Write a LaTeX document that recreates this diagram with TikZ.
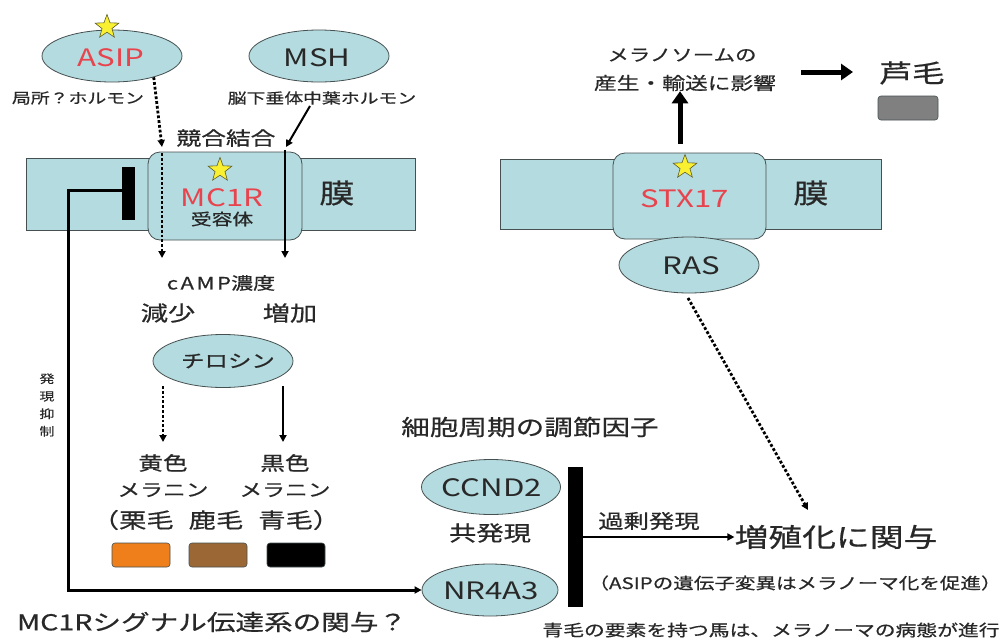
\documentclass[tikz,border=0pt]{standalone}
\usepackage{fontspec}
\setmainfont{Noto Sans CJK JP}[FakeStretch=1.3, FakeBold=0.6]
\newfontfamily\latfont{Noto Sans CJK JP}[FakeStretch=1.3]
\newfontfamily\spfont{Noto Sans CJK JP}[FakeStretch=1.3, FakeBold=0.6, LetterSpace=15]
\usetikzlibrary{shapes.geometric,arrows.meta}
\definecolor{memb}{RGB}{180,219,223}
\definecolor{linec}{RGB}{70,80,80}
\definecolor{txtc}{RGB}{40,40,40}
\definecolor{redt}{RGB}{232,68,78}
\definecolor{stary}{RGB}{250,240,50}
\definecolor{starl}{RGB}{90,90,40}
\definecolor{orangeb}{RGB}{238,127,26}
\definecolor{brownb}{RGB}{155,103,52}
\definecolor{greyb}{RGB}{128,128,128}
\newcommand{\myfs}[1]{\fontsize{#1}{#1}\selectfont}
\tikzset{
  tx/.style={text=txtc, inner sep=0pt},
  ell/.style={ellipse, draw=linec, fill=memb, line width=0.8pt, inner sep=0pt},
  band/.style={rectangle, draw=linec, fill=memb, line width=0.8pt, inner sep=0pt},
  prot/.style={band, rounded corners=12pt},
  stary/.style={star, star points=5, star point ratio=2.4, fill=stary, draw=starl, line width=0.6pt, minimum size=25pt, inner sep=0pt},
  arr/.style={-{Triangle[length=7pt,width=7pt]}, line width=2pt, black},
  darr/.style={-{Triangle[length=7pt,width=7pt]}, line width=2.8pt, black, dash pattern=on 2.8pt off 2pt},
  bigarr/.style={-{Triangle[length=12pt,width=16pt]}, line width=5pt, black},
  inhib/.style={rectangle, fill=black, inner sep=0pt},
  swatch/.style={rectangle, rounded corners=3pt, draw=linec, line width=0.6pt, inner sep=0pt, minimum width=58pt, minimum height=24pt},
  lab/.style={tx, font=\latfont\myfs{24}},
}
\begin{document}
\begin{tikzpicture}[x=1pt,y=-1pt]
\useasboundingbox[fill=white] (0,0) rectangle (1006,640);

% ---------- left part ----------
\node[ell, minimum width=140pt, minimum height=52pt] (asip) at (112,56) {};
\node[lab, text=redt] (asipT) at (111,58) {ASIP};
\node[stary] (star1) at (107,27) {};
\node[ell, minimum width=140pt, minimum height=52pt] (msh) at (319,56) {};
\node[lab] (mshT) at (317,58) {MSH};
\node[tx, font=\myfs{14.5}] (lochorm) at (78,98) {局所？ホルモン};
\node[tx, font=\myfs{14.5}] (pithorm) at (322,98) {脳下垂体中葉ホルモン};
\node[tx, font=\myfs{19}] (compet) at (226,138) {競合結合};

\node[band, minimum width=389pt, minimum height=72pt] (bandL) at (220.5,194) {};
\node[prot, minimum width=154pt, minimum height=88pt] (protL) at (225,196) {};
\node[tx, font=\myfs{27}] (makuL) at (337,193) {膜};
\node[stary] (star2) at (220,170) {};
\node[lab, text=redt] (mc1r) at (222,198) {MC1R};
\node[tx, font=\myfs{16}] (juyo) at (222,219) {受容体};
\node[inhib, minimum width=13pt, minimum height=53pt] (barL) at (128.5,193.5) {};

\node[tx, font=\myfs{17}] (camp) at (221,283) {{\spfont cAMP}濃度};
\node[tx, font=\myfs{21}] (gen) at (168,313) {減少};
\node[tx, font=\myfs{21}] (zou) at (290,313) {増加};
\node[ell, minimum width=140pt, minimum height=53pt] (tyr) at (223,361) {};
\node[tx, font=\myfs{18}] (tyrT) at (228,361) {チロシン};
\node[tx, font=\myfs{19}] (yel) at (163,463) {黄色};
\node[tx, font=\myfs{17.5}] (mel1) at (163,490) {メラニン};
\node[tx, font=\myfs{19}] (blk) at (285,463) {黒色};
\node[tx, font=\myfs{17.5}] (mel2) at (285,490) {メラニン};
\node[tx, font=\myfs{21}] (coats) at (216,520) {（栗毛\hspace{15pt}鹿毛\hspace{15pt}青毛）};
\node[swatch, fill=orangeb] (sw1) at (141,555) {};
\node[swatch, fill=brownb] (sw2) at (218,555) {};
\node[swatch, fill=black] (sw3) at (296,555) {};
\node[tx, font=\myfs{22}] (mc1rq) at (212,622) {MC1Rシグナル伝達系の関与？};
\node[tx, font=\fontsize{11.5}{17.5}\selectfont, align=center] (vert) at (47,405) {発\\現\\抑\\制};

% coordinates for arrows (left)
\coordinate (a1) at (162,147);
\coordinate (a2) at (162,153);
\coordinate (a3) at (162,258);
\coordinate (m0) at (310,106);
\coordinate (m1) at (286,147);
\coordinate (m2) at (285,150);
\coordinate (m3) at (285,258);
\coordinate (t1) at (163,386);
\coordinate (t2) at (163,442);
\coordinate (t3) at (283,386);
\coordinate (t4) at (283,442);
\coordinate (c1) at (68,190);
\coordinate (c2) at (68,590);

\draw[darr] (asip.-27) -- (a1);
\draw[darr] (a2) -- (a3);
\draw[arr] (m0) -- (m1);
\draw[arr] (m2) -- (m3);
\draw[darr] (t1) -- (t2);
\draw[arr] (t3) -- (t4);

% ---------- right part ----------
\node[band, minimum width=381pt, minimum height=70pt] (bandR) at (690.5,194) {};
\node[prot, minimum width=153pt, minimum height=86pt] (protR) at (689.5,196) {};
\node[ell, minimum width=140pt, minimum height=56pt] (ras) at (689,265) {};
\node[lab] (rasT) at (691,266) {RAS};
\node[tx, font=\myfs{27}] (makuR) at (811,193) {膜};
\node[stary] (star3) at (685,167) {};
\node[lab, text=redt] (stx) at (685,199) {STX17};
\node[tx, font=\myfs{16.5}] (melano1) at (682,55) {メラノソームの};
\node[tx, font=\myfs{17.5}] (melano2) at (685,83) {産生・輸送に影響};
\node[tx, font=\myfs{25}] (ashige) at (912,73) {芦毛};
\node[swatch, fill=greyb, minimum width=60pt] (sw4) at (908,108) {};
\coordinate (u1) at (680,144);
\coordinate (r1) at (801,72);
\coordinate (r2) at (853,72);
\draw[bigarr] (u1) -- (melano2.south -| u1);
\draw[bigarr] (r1) -- (r2);

\node[tx, font=\myfs{22}] (cellcyc) at (530,427) {細胞周期の調節因子};
\node[ell, minimum width=139pt, minimum height=55pt] (ccnd) at (491,487) {};
\node[lab] (ccndT) at (492,488) {CCND2};
\node[tx, font=\myfs{21}] (kyo) at (490,533) {共発現};
\node[ell, minimum width=136pt, minimum height=52pt] (nr4) at (490,590) {};
\node[lab] (nr4T) at (491,591) {NR4A3};
\node[inhib, minimum width=15pt, minimum height=140pt] (barR) at (575.5,537) {};
\node[tx, font=\myfs{19.5}] (kajo) at (649,521) {過剰発現};
\node[tx, font=\myfs{26}] (zoshoku) at (836,537) {増殖化に関与};
\node[tx, font=\myfs{15.8}] (asipnote) at (795,583) {（ASIPの遺伝子変異はメラノーマ化を促進）};
\node[tx, font=\myfs{16}] (aoge) at (771,630) {青毛の要素を持つ馬は、メラノーマの病態が進行};
\coordinate (d1) at (688,298);
\coordinate (d2) at (808,510);
\draw[darr] (d1) -- (d2);
\draw[arr] (barR.east |- zoshoku) -- (zoshoku.west);

% inhibition connector
\draw[arr, line width=3pt] (barL.west |- c1) -- (c1) -- (c2) -- (nr4.west);
\end{tikzpicture}
\end{document}
